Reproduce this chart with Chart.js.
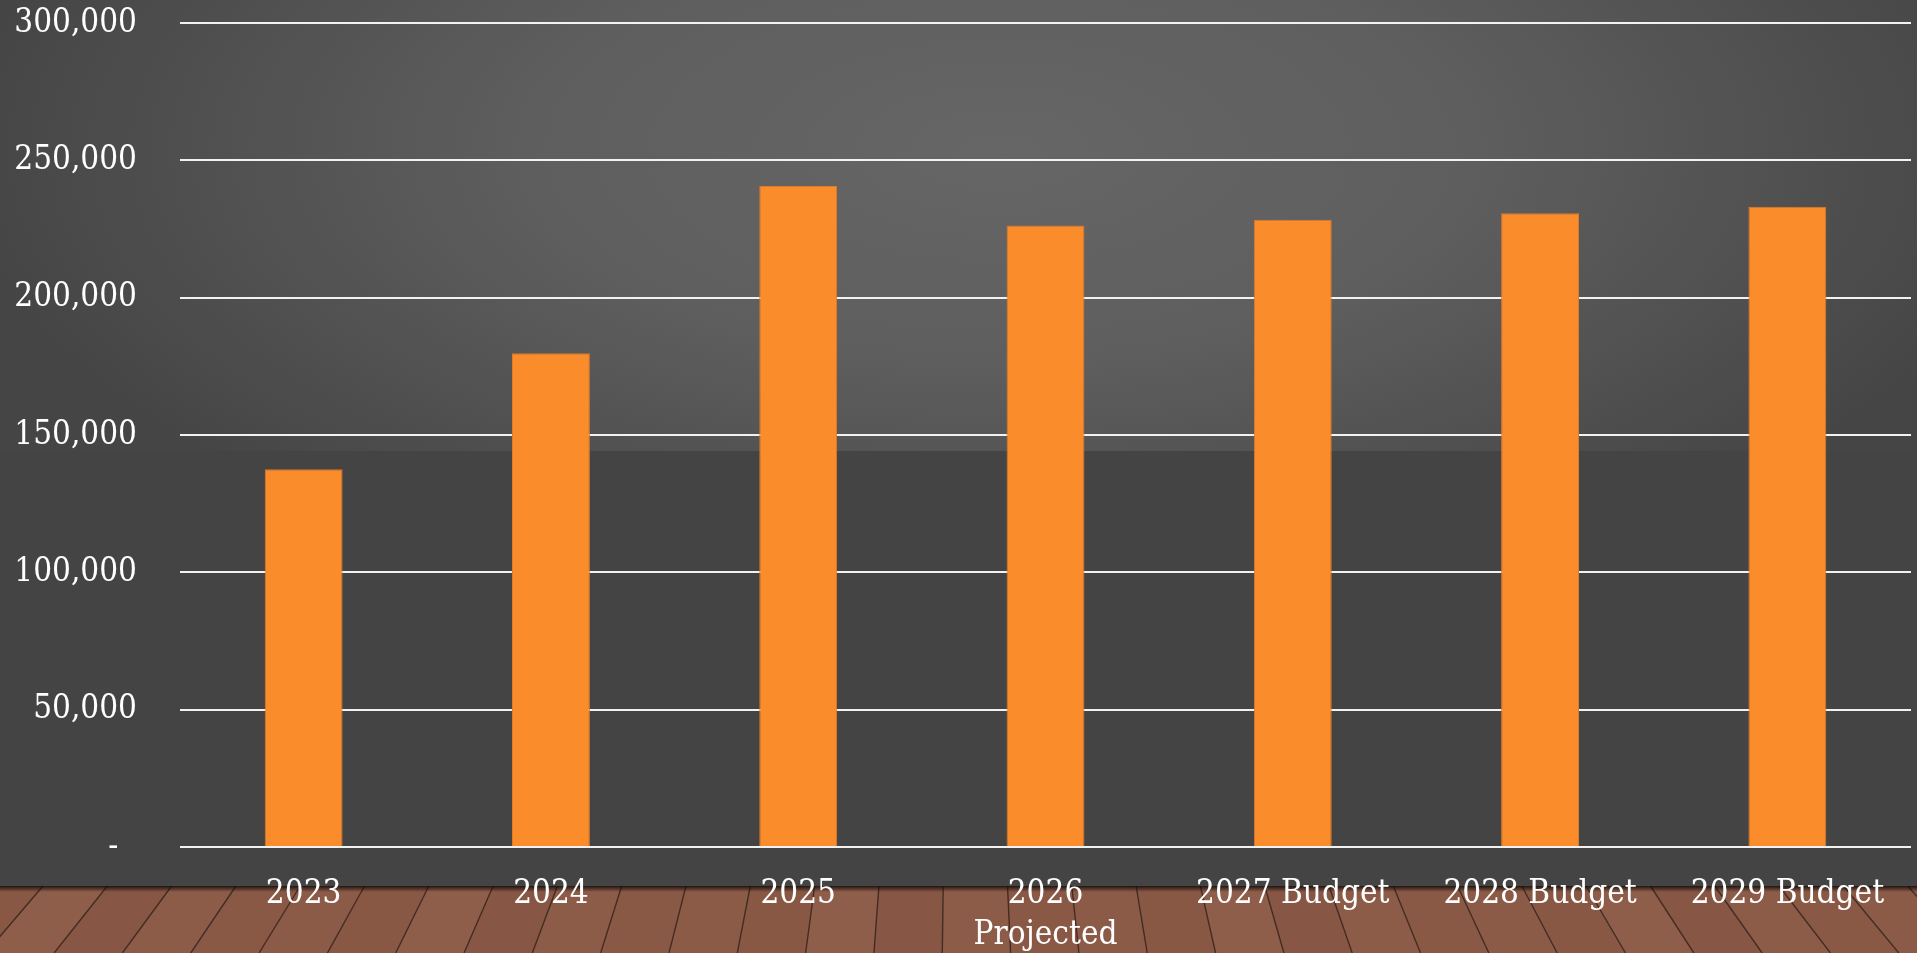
<!DOCTYPE html>
<html>
<head>
<meta charset="utf-8">
<title>Totals by year</title>
<script src="https://cdn.jsdelivr.net/npm/chart.js@4/dist/chart.umd.min.js"></script>
<style>
    html, body { margin: 0; padding: 0; background: #444444; overflow: hidden; }
    #wrap { width: 1917px; height: 953px; }
</style>
</head>
<body>
<div id="wrap"><canvas id="totalsChart" width="1917" height="953"></canvas></div>
<script>
// Chart data
const categories = ['2023', '2024', '2025', ['2026', 'Projected'], '2027 Budget', '2028 Budget', '2029 Budget'];
const totals = [137500, 179800, 240700, 226300, 228400, 230700, 233100];
const yMin = 0;
const yMax = 300000;
const yStep = 50000;

const labelFont = '"DejaVu Serif Condensed", "DejaVu Serif", serif';

// Paints the backdrop: gray spotlight wall, flat lower wall, wooden floor
const backdrop = {
    id: 'backdrop',
    beforeDraw(chart) {
        const ctx = chart.ctx;
        const w = chart.width;
        const h = chart.height;
        const wallSplit = 451;
        const floorTop = 886;

        ctx.save();
        ctx.fillStyle = '#444444';
        ctx.fillRect(0, 0, w, h);

        // upper wall with soft light in the middle
        ctx.save();
        ctx.beginPath();
        ctx.rect(0, 0, w, wallSplit);
        ctx.clip();
        ctx.translate(1000, 150);
        ctx.scale(1, 0.45);
        let glow = ctx.createRadialGradient(0, 0, 0, 0, 0, 1050);
        glow.addColorStop(0, '#666666');
        glow.addColorStop(0.45, '#5e5e5e');
        glow.addColorStop(1, '#454545');
        ctx.fillStyle = glow;
        ctx.fillRect(-1200, -800, 2400, 1600);
        ctx.restore();

        // floor planks in perspective
        const vx = 958, vy = -185;
        const spacing = 64.3;
        const start = 43 - spacing * 2;
        const tones = ['#8c5b48', '#895845', '#8f5e4b', '#875644', '#8d5c49', '#8a5946'];
        const xAt = (x0, y) => vx + (x0 - vx) * (y - vy) / (floorTop - vy);
        for (let i = 0; i < 36; i++) {
            const a = start + i * spacing;
            const b = a + spacing;
            ctx.beginPath();
            ctx.moveTo(a, floorTop);
            ctx.lineTo(b, floorTop);
            ctx.lineTo(xAt(b, h), h);
            ctx.lineTo(xAt(a, h), h);
            ctx.closePath();
            ctx.fillStyle = tones[i % tones.length];
            ctx.fill();
        }
        ctx.strokeStyle = 'rgba(52,34,27,0.8)';
        ctx.lineWidth = 1.4;
        for (let i = 0; i < 37; i++) {
            const a = start + i * spacing;
            ctx.beginPath();
            ctx.moveTo(a, floorTop);
            ctx.lineTo(xAt(a, h), h);
            ctx.stroke();
        }

        // shadow where the wall meets the floor
        let shade = ctx.createLinearGradient(0, floorTop, 0, floorTop + 6);
        shade.addColorStop(0, 'rgba(20,14,10,0.9)');
        shade.addColorStop(1, 'rgba(20,14,10,0)');
        ctx.fillStyle = shade;
        ctx.fillRect(0, floorTop, w, 6);
        ctx.restore();
    }
};

let ctx = document.getElementById('totalsChart').getContext('2d');
let totalsChart = new Chart(ctx, {
    type: 'bar',
    data: {
        labels: categories,
        datasets: [{
            label: 'Total',
            data: totals,
            backgroundColor: '#fb8c2c',
            borderColor: '#e07a24',
            borderWidth: 1,
            categoryPercentage: 1,
            barPercentage: 0.315
        }]
    },
    options: {
        responsive: false,
        animation: false,
        layout: {
            padding: { top: 23, right: 6, left: 0, bottom: 0 }
        },
        plugins: {
            legend: { display: false },
            tooltip: { enabled: false }
        },
        scales: {
            x: {
                grid: { display: false, drawTicks: false },
                border: { display: false },
                ticks: {
                    color: '#ffffff',
                    padding: 27,
                    maxRotation: 0,
                    autoSkip: false,
                    font: { family: labelFont, size: 33, lineHeight: 1.24 }
                },
                afterFit: function(scale) {
                    scale.height = 106;
                }
            },
            y: {
                min: yMin,
                max: yMax,
                grid: { color: '#f2f2f2', lineWidth: 2, drawTicks: false },
                border: { display: false },
                ticks: {
                    stepSize: yStep,
                    color: '#ffffff',
                    padding: 43,
                    font: { family: labelFont, size: 33 },
                    callback: function(value) {
                        return value === 0 ? '-  ' : value.toLocaleString('en-US');
                    }
                },
                afterFit: function(scale) {
                    // fixed axis width; the label gap should not push the plot area down
                    scale.width = 180;
                    scale.paddingTop = 0;
                    scale.paddingBottom = 0;
                }
            }
        }
    },
    plugins: [backdrop]
});
</script>
</body>
</html>
